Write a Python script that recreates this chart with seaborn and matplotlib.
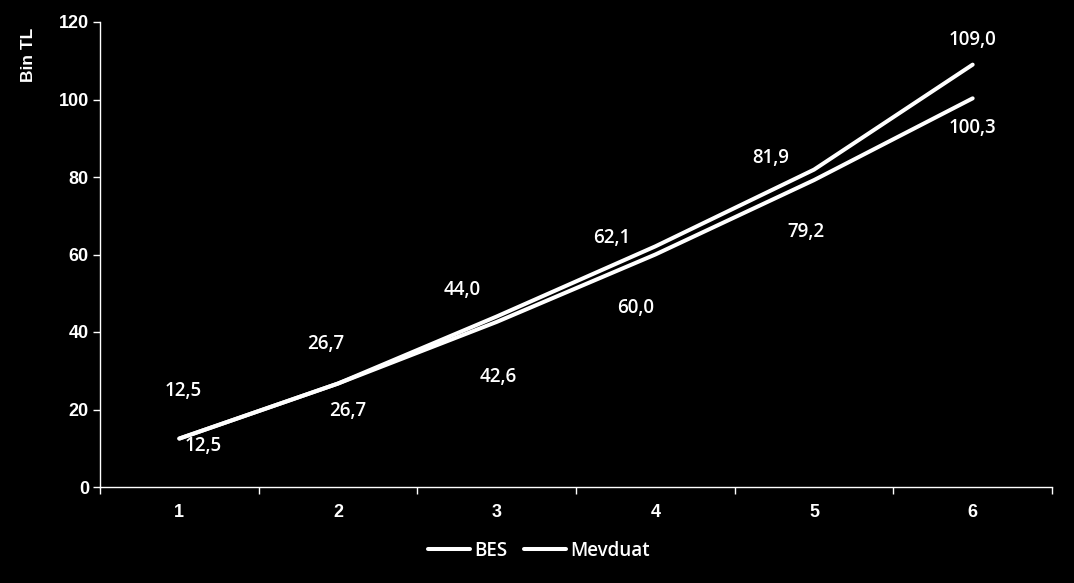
import matplotlib
matplotlib.use("Agg")
import matplotlib.pyplot as plt
import seaborn as sns
import pandas as pd
from matplotlib.ticker import FixedLocator

years = [1, 2, 3, 4, 5, 6]
bes = [12.5, 26.7, 44.0, 62.1, 81.9, 109.0]
mevduat = [12.5, 26.7, 42.6, 60.0, 79.2, 100.3]
bes_labels = ["12,5", "26,7", "44,0", "62,1", "81,9", "109,0"]
mev_labels = ["12,5", "26,7", "42,6", "60,0", "79,2", "100,3"]
series_names = ["BES", "Mevduat"]

sns.set_style("dark")
plt.rcParams["font.family"] = ["Liberation Sans", "DejaVu Sans"]

df = pd.DataFrame({
    "x": years + years,
    "y": bes + mevduat,
    "seri": [series_names[0]] * 6 + [series_names[1]] * 6,
})

fig = plt.figure(figsize=(10.74, 5.83), dpi=100, facecolor="black")
ax = fig.add_axes([100 / 1074, 96 / 583, 952 / 1074, 465 / 583])
ax.set_facecolor("black")

sns.lineplot(data=df, x="x", y="y", hue="seri", palette=["white", "white"],
             linewidth=2.9, ax=ax, legend=True)

ax.set_xlim(0.5, 6.5)
ax.set_ylim(0, 120)
ax.set_yticks(range(0, 121, 20))
ax.set_xticks(years)
ax.set_xticklabels([str(v) for v in years])
ax.xaxis.set_minor_locator(FixedLocator([0.5 + i for i in range(7)]))
ax.tick_params(axis="x", which="major", length=0, pad=12, colors="white",
               labelsize=13)
ax.tick_params(axis="x", which="minor", length=5, width=1, color="white",
               direction="out", bottom=True)
ax.tick_params(axis="y", length=5, width=1, color="white", direction="out",
               left=True, labelsize=13, labelcolor="white", pad=3)
for lab in ax.get_xticklabels() + ax.get_yticklabels():
    lab.set_fontweight("bold")
ax.grid(False)
for s in ["top", "right"]:
    ax.spines[s].set_visible(False)
for s in ["left", "bottom"]:
    ax.spines[s].set_color("white")
    ax.spines[s].set_linewidth(1)

ax.set_xlabel("")
ax.set_ylabel("Bin TL", color="white", fontsize=12.5, fontweight="bold")
ax.yaxis.set_label_coords(-0.067, 0.93)

lab_font = {"family": ["Open Sans", "DejaVu Sans"], "size": 13.5,
            "weight": "semibold"}
bes_off = [(4, 48), (-12, 40), (-34, 27), (-44, 8), (-43, 12), (0, 25)]
mev_off = [(24, -7), (10, -27), (2, -55), (-20, -53), (-8, -52), (0, -30)]
for x, y, t, o in zip(years, bes, bes_labels, bes_off):
    ax.annotate(t, (x, y), xytext=o, textcoords="offset pixels",
                ha="center", va="center", color="white", **lab_font)
for x, y, t, o in zip(years, mevduat, mev_labels, mev_off):
    ax.annotate(t, (x, y), xytext=o, textcoords="offset pixels",
                ha="center", va="center", color="white", **lab_font)

leg = ax.legend(loc="center", bbox_to_anchor=(0.502, 0.055),
                bbox_transform=fig.transFigure, ncol=2,
                frameon=False, handlelength=2.2, handletextpad=0.25,
                columnspacing=0.9,
                prop={"family": ["Open Sans", "DejaVu Sans"], "size": 13.5,
                      "weight": "semibold"})
for t in leg.get_texts():
    t.set_color("white")
for h in leg.get_lines():
    h.set_linewidth(2.9)

fig.savefig("out.png", dpi=100, facecolor="black")
